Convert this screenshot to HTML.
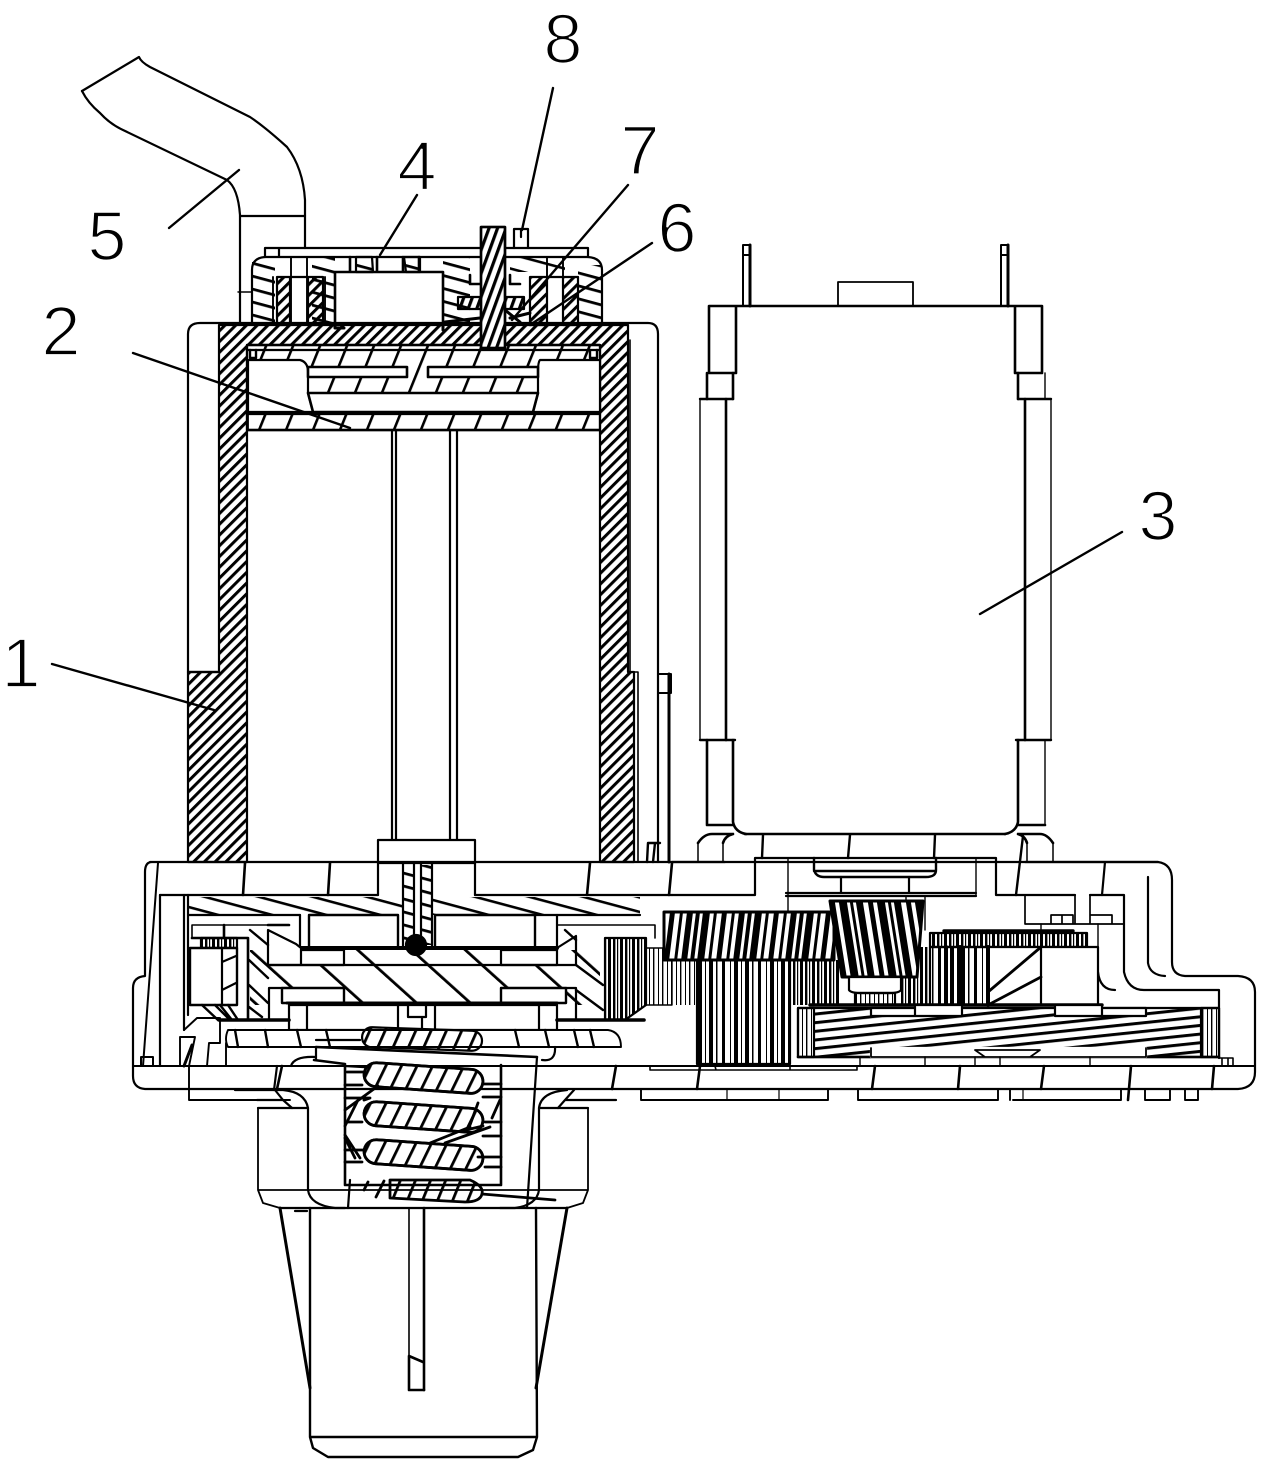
<!DOCTYPE html>
<html><head><meta charset="utf-8"><style>
html,body{margin:0;padding:0;background:#fff}
svg{display:block}
text{font-family:"Liberation Sans",sans-serif;font-size:70px;fill:#000;stroke:#fff;stroke-width:1.8px;text-anchor:middle}
</style></head><body>
<svg width="1269" height="1471" viewBox="0 0 1269 1471" xmlns="http://www.w3.org/2000/svg">
<defs>
<pattern id="h" width="7.6" height="8" patternUnits="userSpaceOnUse" patternTransform="rotate(45)"><rect width="3" height="8" fill="#000"/></pattern>
<pattern id="hs" width="8" height="8" patternUnits="userSpaceOnUse" patternTransform="rotate(20)"><rect width="3.2" height="8" fill="#000"/></pattern>
<pattern id="wide" width="25" height="20" patternUnits="userSpaceOnUse" patternTransform="rotate(22)"><rect width="2.6" height="20" fill="#000"/></pattern>
<pattern id="rot" width="36" height="20" patternUnits="userSpaceOnUse" patternTransform="rotate(-48)"><rect width="2.8" height="20" fill="#000"/></pattern>
<pattern id="slat" width="20" height="12.5" patternUnits="userSpaceOnUse" patternTransform="rotate(15)"><rect width="20" height="2.8" fill="#000"/></pattern>
<pattern id="top" width="20" height="14" patternUnits="userSpaceOnUse" patternTransform="rotate(15)"><rect width="20" height="2.6" fill="#000"/></pattern>
<pattern id="coil" width="14" height="10" patternUnits="userSpaceOnUse" patternTransform="rotate(22)"><rect width="2.8" height="10" fill="#000"/></pattern>
<pattern id="gA" width="52" height="10" patternUnits="userSpaceOnUse" patternTransform="skewX(-7)"><path d="M2 0h5v10h-5zM12 0h3v10h-3zM19 0h6v10h-6zM28 0h4v10h-4zM35 0h7v10h-7zM46 0h3v10h-3z"/></pattern>
<pattern id="gB" width="38" height="10" patternUnits="userSpaceOnUse" patternTransform="skewX(9)"><path d="M3 0h5v10h-5zM12 0h8v10h-8zM23 0h3v10h-3zM29 0h7v10h-7z"/></pattern>
<pattern id="vS" width="36" height="10" patternUnits="userSpaceOnUse"><path d="M2 0h3v10h-3zM10 0h1v10h-1zM14 0h4v10h-4zM21 0h1v10h-1zM25 0h4v10h-4zM32 0h1.5v10h-1.5z"/></pattern>
<pattern id="vD" width="12" height="10" patternUnits="userSpaceOnUse"><path d="M1 0h2.4v10h-2.4zM5 0h1.2v10h-1.2zM8 0h3v10h-3z"/></pattern>
<pattern id="vT" width="9" height="10" patternUnits="userSpaceOnUse"><path d="M1 0h1v10h-1zM5 0h1.4v10h-1.4z"/></pattern>
<pattern id="hel" width="20" height="8.6" patternUnits="userSpaceOnUse" patternTransform="rotate(-6)"><rect width="20" height="3" fill="#000"/></pattern>
</defs>
<rect width="1269" height="1471" fill="#fff"/>

<g fill="none" stroke="#000" stroke-width="2.2" stroke-linecap="round" stroke-linejoin="round">
<!-- hose -->
<path d="M82 91L139 57Q141 62 150 67L250 117Q265 127 287 147Q303 168 305 200V248"/>
<path d="M82 91Q88 103 100 113Q110 124 123 130L227 180Q238 188 240 215V323"/>
<path d="M240 216H305"/>
<path d="M238 292H252" stroke-width="1.4"/>

<!-- outer shell -->
<path d="M188 672V334Q188 323 200 323H648Q658 323 658 334V862"/>
<path d="M188 672H219"/>
<path d="M630 340V672M628 672H638V862" stroke-width="1.6"/>
<path d="M669 674V862" stroke-width="3"/>
<path d="M658 674H671V693H658Z" stroke-width="2"/>
<path d="M647 862L648 843H660M653 862L655 843" stroke-width="2.4"/>

<!-- walls & cap -->
<path d="M188 672H219V325H628V672H634V862H600V430H247V862H188Z" fill="url(#h)" stroke="#000"/>
<path d="M247 345H600V430H247Z" fill="#fff"/>
<path d="M247 345H600V430H247Z" fill="url(#wide)"/>
<path d="M247 345H600M247 350H600M247 430H600M247 414H600" />
<path d="M248 360H300Q308 362 308 372V393L313 412H248Z" fill="#fff"/>
<path d="M540 360H600V412H533L538 393V372Q538 362 540 360Z" fill="#fff"/>
<path d="M308 367H407V377H308ZM428 367H538V377H428ZM428 367V377" fill="#fff" stroke-width="2.6"/>
<path d="M308 393H538L533 412H313Z" fill="#fff" stroke-width="2.6"/>
<path d="M248 414H310M533 414H600M248 412V430M600 412V430" stroke-width="1.8"/>
<path d="M250 350V358H256V350M590 350V358H597V350" stroke-width="2.4"/>

<!-- top cap -->
<path d="M265 248H588M265 257H588M265 248V257M588 248V257M279 248V257M322 257H290"/>
<path d="M265 257Q252 258 252 270V325M588 257Q602 258 602 270V325"/>
<path d="M252 262H275V325H252Z" fill="url(#slat)" stroke="none"/>
<path d="M578 265H602V325H578Z" fill="url(#slat)" stroke="none"/>
<path d="M312 258H335V322H312Z" fill="url(#slat)" stroke="none"/>
<path d="M443 258H470V322H443Z" fill="url(#slat)" stroke="none"/>
<path d="M510 258H565V272H510Z" fill="url(#top)" stroke="none"/>
<path d="M277 277H290V325H277ZM308 277H323V325H308ZM530 277H547V325H530ZM563 277H578V325H563Z" fill="url(#h)"/>
<path d="M273 277V325M291 257V325M307 257V325M547 257V325M563 257V325M325 277V325M578 277V325" stroke-width="1.9"/>
<path d="M291 277H307M547 277H563"/>
<path d="M335 272V325M443 272V325M335 272H443M377 257V272M403 257V272M350 257V272M419 257V272" stroke-width="2.6"/>
<path d="M356 257V272H373L372 257ZM404 257L406 272H420V257Z" fill="url(#slat)"/>
<path d="M335 325V328H344V328M443 325V330" stroke-width="3"/>
<path d="M458 297H524V309H458Z" fill="url(#hs)"/>
<path d="M470 275V284H480M510 275V284H520" stroke-width="2.6"/>
<path d="M445 322L480 318M510 318L530 313M505 310L520 322" stroke-width="3"/>
<path d="M481 227H505V348H481Z" fill="#fff" stroke-width="2.6"/>
<path d="M481 227H505V348H481Z" fill="url(#hs)"/>
<path d="M514 248V229H528V248M521 229V237"/>

<!-- inner tube & shaft -->
<path d="M392 430V840M396 430V840M450 430V840M457 430V840"/>
<path d="M378 840H475V863H378Z" fill="#fff"/>

<!-- housing top -->
<path d="M150 862H1158Q1172 864 1172 880V962Q1172 975 1185 976H1238Q1255 977 1255 992V1072Q1255 1088 1238 1089H145Q133 1088 133 1076V988Q133 977 145 976V872Q145 862 152 862"/>
<path d="M158 863L143 1066M133 1066H1255" stroke-width="2"/>
<path d="M160 895V1066M184 895V1030M188 895V1015"/>
<path d="M160 895H378M475 895H672"/>
<path d="M245 863L243 895M330 863L328 895M590 863L587 895M672 863L669 895" stroke-width="2.6"/>
<path d="M378 863V895M475 863V895"/>

<!-- motor 3 -->
<path d="M743 306V245H750V306M743 255H750M1001 306V245H1008V306M1001 255H1008" stroke-width="2"/>
<path d="M750 245V306M1008 245V306" stroke-width="3"/>
<path d="M838 306V282H913V306" stroke-width="1.8"/>
<path d="M709 306H1042V373H1015V306M709 306V373H736V306" stroke-width="2.6"/>
<path d="M707 373V399M733 373V399M1018 373V399" stroke-width="2.6"/>
<path d="M1045 373V399" stroke-width="1.4"/>
<path d="M700 399H733M1018 399H1051M700 740H735M1016 740H1051" stroke-width="2.4"/>
<path d="M700 399V740M1051 399V740" stroke-width="1.4"/>
<path d="M726 399V740M1025 399V740" stroke-width="2.6"/>
<path d="M707 740V825H733M733 740V822Q735 832 746 834M1018 740V822Q1016 832 1005 834M1018 825H1045" stroke-width="2.6"/>
<path d="M1045 740V825" stroke-width="1.4"/>
<path d="M745 834H1005" stroke-width="2.6"/>
<path d="M698 843Q704 834 712 834H733M723 843Q725 836 733 834M1053 843Q1047 834 1040 834H1018M1027 843Q1025 836 1018 834" stroke-width="2.6"/>
<path d="M698 843V862M723 843V862M1027 843V862M1053 843V862" stroke-width="1.5"/>
<path d="M763 835L762 858M850 835L848 858M935 835L934 858M1023 836L1016 895" stroke-width="2.4"/>
<path d="M672 862H725M672 895H755V858H996V895H1075M1090 895H1124V972Q1128 990 1144 990H1219V1058"/>
<path d="M1025 862H1158M1105 862L1102 895M1148 877V963Q1150 975 1165 976M1098 972Q1100 990 1115 990"/>
<path d="M814 858V870Q816 877 824 877H926Q936 877 936 870V858M814 871H936" stroke-width="2.4"/>
<path d="M841 877V893H909V877M786 893H976M786 896H976" />
<path d="M788 858V912M976 858V896M906 896V912M925 896V930" stroke-width="1.4"/>
<path d="M1025 895V924H1124M1051 924V915H1073V924M1062 915V924M1090 924V915H1112V924M1075 895V924M1090 895V924" stroke-width="1.7"/>
<path d="M1041 924V947M1098 924V947" stroke-width="1.4"/>

<!-- right gears -->
<path d="M697 960H790V1064H697Z" fill="url(#vS)"/>
<path d="M646 948H672V1005H646Z" fill="url(#vT)" stroke-width="1.4"/>
<path d="M666 948H700V1005H666Z" fill="url(#vT)" stroke="none"/>
<path d="M664 912H834V960H664Z" fill="#fff" stroke-width="3"/>
<path d="M664 912H834V960H664Z" fill="url(#gA)"/>
<path d="M790 960H840V1005H790Z" fill="url(#vD)" stroke="none"/>
<path d="M830 901H923L917 977H842Z" fill="#fff" stroke-width="3"/>
<path d="M830 901H923L917 977H842Z" fill="url(#gB)"/>
<path d="M849 977H901V990Q899 993 890 993H860Q851 993 849 990Z" fill="#fff"/>
<path d="M855 993H895V1005H855Z" fill="url(#vT)"/>
<path d="M917 947H930V1005H901V977H917Z" fill="url(#vD)" stroke="none"/>
<path d="M930 933H1087V947H930Z" fill="url(#vD)"/>
<path d="M944 931H1073" stroke-width="3.4"/>
<path d="M930 947H988V1005H930Z" fill="url(#vS)"/>
<path d="M988 947H1098V1005H988ZM1041 947V1005M988 947V1005" fill="#fff"/>
<path d="M988 992L1041 947M988 1005L1041 977" stroke-width="2.8"/>
<path d="M946 947V1005M960 947V1005M988 947V1005" stroke-width="4"/>

<!-- helical -->
<path d="M798 1008H1219V1057H798Z" fill="#fff"/>
<path d="M814 1008H1201V1057H814Z" fill="url(#hel)" stroke="none"/>
<path d="M798 1008V1057H814V1008ZM1201 1008H1219V1057H1201Z" fill="url(#vT)"/>
<path d="M810 1005H1102" stroke-width="3.4"/>
<path d="M798 1057H1219" stroke-width="2.6"/>
<path d="M871 1008H915V1016H871ZM915 1005H962V1016H915ZM1055 1005H1102V1016H1055ZM1102 1008H1146V1016H1102Z" fill="#fff"/>
<path d="M871 1048H1146V1057H871Z" fill="#fff" stroke="#fff"/>
<path d="M871 1048V1057H1146V1048M975 1050H1040L1030 1057H985Z" stroke-width="1.8"/>
<path d="M860 1057V1066M925 1057V1066M975 1057V1066M1000 1057V1066M1090 1057V1066" stroke-width="1.4"/>
<path d="M650 1066V1070H857V1066M715 1066L716 1070H790V1066" stroke-width="1.6"/>
<path d="M1220 1058H1233V1066M1222 1058V1066M1228 1058V1066" stroke-width="1.6"/>

<!-- bottom strip -->
<path d="M189 1066V1100H290M641 1089V1100H828V1089M858 1089V1100H998V1089M1010 1100V1089M1013 1100H1121V1089M1145 1089V1100H1170V1089M1185 1100V1089M1185 1100H1198V1089" stroke-width="1.9"/>
<path d="M282 1066L277 1089M616 1066L612 1089M700 1066L697 1089M875 1066L872 1089M960 1066L958 1089M1044 1066L1041 1089M1131 1066L1128 1100M1214 1066L1212 1089" stroke-width="2.6"/>
<path d="M727 1089V1100M779 1089V1100M1023 1089V1100" stroke-width="1.2"/>

<!-- top hatch in lower housing -->
<path d="M188 897H403V915H188ZM432 897H640V915H432Z" fill="url(#top)" stroke="none"/>
<path d="M188 915H300M557 915H640" />
<path d="M403 863V948M432 863V948" />
<path d="M403 865H414V945H403ZM421 865H432V945H421Z" fill="url(#slat)" stroke="none"/>
<path d="M414 863V945M421 863V945"/>
<path d="M309 915H398V948H309ZM435 915H535V948H435Z" fill="#fff" stroke-width="2.4"/>
<path d="M300 915V948M535 915H557V948"/>
<circle cx="416" cy="945" r="10" fill="#000"/>

<!-- rotor -->
<path d="M250 950H600V1005H250Z" fill="url(#rot)" stroke="none"/>
<path d="M301 948H557" stroke-width="4"/>
<path d="M268 965V930L296 944L301 948V965ZM301 950H344V965H301ZM501 950H557V965H501Z" fill="#fff"/>
<path d="M269 965H576" stroke-width="2.2"/>
<path d="M557 948L576 936M576 936V965"/>
<path d="M282 988H344V1003H282ZM501 988H566V1003H501Z" fill="#fff" stroke-width="2.4"/>
<path d="M269 988V1020M576 988V1020M269 988H282M566 988H576"/>
<path d="M287 1003H557" stroke-width="3"/>
<path d="M289 1005V1030H557V1005H289M307 1005V1030M398 1005V1030M435 1005V1030M539 1005V1030" fill="#fff"/>
<path d="M408 1005H426V1017H408ZM412 1017H422V1030" fill="#fff"/>
<path d="M219 1020H289M557 1020H644" stroke-width="3.6"/>

<!-- left stack -->
<path d="M192 925H289M192 925V938M557 925H655V938" stroke-width="1.6"/>
<path d="M224 925V938M268 925H289M248 938H192M248 938V1020" stroke-width="2.6"/>
<path d="M201 938H237V948H201Z" fill="url(#vD)"/>
<path d="M190 948H237V1005H190Z" fill="#fff" stroke-width="2.4"/>
<path d="M222 948V1005M222 962L236 956M222 990L236 983"/>
<path d="M202 1005L218 1020H232L220 1005M215 1005L230 1020M228 1005L238 1020" stroke-width="2.4"/>
<path d="M605 938H646V1005L625 1020H605Z" fill="url(#vD)"/>
<path d="M250 930L268 945M249 960L268 978M249 985L268 1003M249 1007L262 1017M576 965L603 985M576 990L603 1010M565 930L576 940" stroke-width="2.4"/>

<!-- worm -->
<path d="M228 1030H608Q621 1032 621 1047H228Q224 1039 228 1030Z" fill="#fff" stroke-width="1.9"/>
<path d="M235 1030L238 1047M265 1030L268 1047M297 1030L301 1047M326 1030L330 1047M515 1030L519 1047M545 1030L549 1047M574 1030L578 1047M590 1030L594 1047" stroke-width="2.4"/>
<path d="M316 1040H360"/>
<rect x="362" y="1029" width="120" height="20" rx="10" fill="url(#coil)" transform="rotate(2 422 1040)"/>
<path d="M184 1030L197 1018H219M180 1037H195L189 1066M180 1037V1066M207 1066L209 1043H220M220 1043V1018M226 1043V1066" stroke-width="1.9"/>
<path d="M192 1045L184 1066" stroke-width="3"/>
<path d="M141 1066V1057H153V1066" stroke-width="2"/>

<!-- cup -->
<path d="M258 1108V1190L263 1203L280 1208M588 1108V1190L583 1203L567 1208M258 1190H588" stroke-width="1.8"/>
<path d="M258 1108H308M539 1108H588" />
<path d="M235 1090H283Q305 1092 308 1108V1190Q310 1205 335 1208H345M567 1090Q541 1092 539 1108V1190Q537 1205 515 1208H500"/>
<path d="M257 1100H283L275 1090M283 1100L292 1108M616 1100H565L574 1090M565 1100L558 1108"/>
<path d="M277 1066L274 1090"/>

<!-- spring box -->
<path d="M316 1047L537 1057M314 1060L345 1064M345 1065V1185M501 1065V1185M345 1185H501" stroke-width="2.6"/>
<path d="M316 1047V1060M291 1066Q294 1056 316 1057M537 1057L527 1208M542 1060Q556 1062 555 1047"/>
<path d="M350 1180L348 1208M345 1066L480 1074"/>

<!-- coils -->
<g stroke-width="2.8">
<rect x="364" y="1066" width="119" height="24" rx="12" fill="#fff" transform="rotate(4 423 1078)"/>
<rect x="364" y="1066" width="119" height="24" rx="12" fill="url(#coil)" transform="rotate(4 423 1078)"/>
<rect x="364" y="1105" width="119" height="24" rx="12" fill="#fff" transform="rotate(4 423 1117)"/>
<rect x="364" y="1105" width="119" height="24" rx="12" fill="url(#coil)" transform="rotate(4 423 1117)"/>
<rect x="364" y="1143" width="119" height="24" rx="12" fill="#fff" transform="rotate(4 423 1155)"/>
<rect x="364" y="1143" width="119" height="24" rx="12" fill="url(#coil)" transform="rotate(4 423 1155)"/>
<path d="M390 1180H470Q484 1186 482 1194Q480 1202 465 1202L390 1198Z" fill="url(#coil)"/>
<path d="M364 1190L368 1182M376 1197L384 1181"/>
<path d="M482 1194L555 1200"/>
<path d="M347 1072H363M345 1085H362M345 1098H370L364 1100M345 1110L378 1086M345 1126L358 1100M347 1122H362M345 1138L355 1158M345 1135L360 1158M345 1162H362M345 1150H363M483 1084H501M483 1097H501M485 1122H501M483 1136H501M478 1157H501M485 1167H501M466 1130L483 1126M430 1143L470 1127M445 1143L490 1127M500 1100L492 1118M478 1103L470 1125"/>
</g>

<!-- lower cone -->
<path d="M280 1208H567" stroke-width="2.2"/>
<path d="M280 1208L310 1388M567 1208L536 1388" stroke-width="3"/>
<path d="M310 1208V1437L313 1448L328 1457H518L533 1450L537 1437L536 1208M310 1437H537" stroke-width="2.4"/>
<path d="M409 1208V1390" stroke-width="1.6"/>
<path d="M424 1208V1390" stroke-width="2.6"/>
<path d="M409 1356V1390H424M409 1356L423 1362" stroke-width="2.6"/>
<path d="M295 1211H307" stroke-width="2.2"/>

<!-- leaders -->
<g stroke-width="2.4">
<path d="M553 88L522 230"/>
<path d="M417 195L380 255"/>
<path d="M628 185L512 320"/>
<path d="M652 243L530 325"/>
<path d="M239 170L169 228"/>
<path d="M133 353L350 428"/>
<path d="M1122 532L980 614"/>
<path d="M52 664L214 710"/>
</g>
</g>

<text x="563" y="63">8</text>
<text x="417" y="190">4</text>
<text x="640" y="174">7</text>
<text x="677" y="252">6</text>
<text x="107" y="260">5</text>
<text x="61" y="355">2</text>
<text x="1158" y="540">3</text>
<text x="21" y="687">1</text>
</svg>
</body></html>
